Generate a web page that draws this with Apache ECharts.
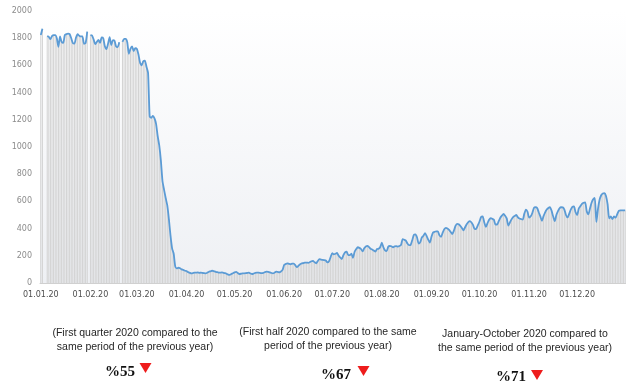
<!DOCTYPE html>
<html lang="en">
<head>
    <meta charset="UTF-8">
    <title>2020 daily</title>
    <script src="https://cdn.jsdelivr.net/npm/echarts@6/dist/echarts.min.js"></script>
    <style>
        body { margin: 0; background: #fff; }
    </style>
</head>
<body>
    <div id="ec" style="width:626px;height:385px"></div>
</body>
<script>
    // daily values, 2020 (null = no data that day)
    var jan = [1823, 1870, null, null, 1815, 1810, 1793, 1815, 1823, 1823, 1800, 1737, 1813, 1773, 1765, 1823, 1830, 1833, 1830, 1800, 1765, 1760, 1805, 1830, 1818, 1813, 1813, 1758, 1765, 1848, null]
    var feb = [1823, 1820, 1790, 1756, 1773, 1787, 1765, 1805, 1800, 1740, 1720, 1760, 1808, 1750, 1785, 1782, 1740, 1735, 1770, null, 1773, 1795, 1795, 1770, 1685, 1722, 1740, 1705, 1726]
    var mar = [1722, 1680, 1620, 1601, 1630, 1635, 1590, 1545, 1225, 1215, 1228, 1210, 1170, 1080, 1010, 900, 750, 685, 625, 570, 470, 350, 255, 215, 120, 108, 112, 108, 100, 96, 90]
    var apr = [88, 80, 75, 71, 73, 76, 76, 78, 75, 76, 74, 72, 71, 76, 83, 86, 90, 88, 83, 80, 77, 76, 78, 75, 72, 68, 62, 60, 66, 72]
    var may = [78, 82, 74, 66, 68, 71, 71, 72, 74, 76, 70, 66, 70, 75, 76, 76, 74, 72, 75, 80, 83, 81, 78, 74, 71, 76, 83, 81, 79, 85, 96]
    var jun = [133, 140, 145, 141, 138, 142, 143, 130, 116, 128, 138, 144, 146, 150, 150, 148, 153, 160, 163, 152, 145, 162, 175, 172, 170, 168, 165, 152, 160, 190]
    var jul = [219, 210, 215, 222, 200, 188, 176, 205, 225, 231, 205, 205, 215, 185, 230, 250, 263, 258, 250, 232, 255, 268, 273, 264, 252, 246, 238, 231, 250, 252, 265]
    var aug = [297, 262, 240, 235, 266, 272, 270, 263, 270, 271, 268, 272, 280, 322, 318, 312, 290, 278, 280, 315, 354, 358, 335, 290, 300, 335, 347, 367, 345, 318, 297]
    var sep = [340, 372, 377, 380, 380, 350, 340, 370, 395, 405, 400, 390, 375, 360, 385, 420, 435, 432, 420, 405, 388, 410, 432, 448, 455, 445, 425, 396, 400, 425]
    var oct = [452, 485, 490, 445, 412, 440, 465, 476, 472, 465, 430, 430, 455, 480, 495, 508, 495, 475, 422, 445, 468, 485, 493, 500, 482, 474, 470, 466, 510, 540, 524]
    var nov = [480, 490, 515, 552, 558, 551, 520, 490, 458, 492, 520, 540, 552, 557, 532, 490, 455, 500, 528, 550, 557, 556, 540, 500, 482, 508, 540, 560, 563, 520]
    var dec = [500, 548, 565, 582, 590, 593, 525, 505, 548, 590, 615, 625, 448, 545, 612, 645, 658, 660, 640, 580, 475, 490, 470, 490, 480, 505, 530, 534, 534, 534, 534]

    var months = [jan, feb, mar, apr, may, jun, jul, aug, sep, oct, nov, dec]

    // notes under the chart
    var notes = [
        { lines: ['(First quarter 2020 compared to the', 'same period of the previous year)'], pct: '%55' },
        { lines: ['(First half 2020 compared to the same', 'period of the previous year)'], pct: '%67' },
        { lines: ['January-October 2020 compared to', 'the same period of the previous year)'], pct: '%71' }
    ]

    function pad(n) { return n < 10 ? '0' + n : '' + n }

    var days = []
    var values = []
    months.forEach(function(m, mi) {
        m.forEach(function(v, di) {
            days.push(pad(di + 1) + '.' + pad(mi + 1) + '.20')
            values.push(v)
        })
    })

    function monthStart(i, v) { return v.slice(0, 2) === '01' }

    var ech = document.getElementById("ec")
    var mychart = echarts.init(ech)

    // note positions
    var notePos = [
        { x: 135, y1: 333, y2: 347, px: 120, py: 372, tx: 145.5, ty: 368 },
        { x: 328, y1: 332, y2: 346, px: 336, py: 375, tx: 363.5, ty: 371 },
        { x: 525, y1: 334, y2: 348, px: 511, py: 377, tx: 537, ty: 375 }
    ]
    var graphics = []
    notes.forEach(function(n, i) {
        var p = notePos[i]
        n.lines.forEach(function(t, k) {
            graphics.push({
                type: 'text', x: p.x, y: k === 0 ? p.y1 : p.y2,
                style: { text: t, fill: '#262626', font: '10.5px "Liberation Sans", Arial, sans-serif', align: 'center', verticalAlign: 'middle' }
            })
        })
        graphics.push({
            type: 'text', x: p.px, y: p.py,
            style: { text: n.pct, fill: '#111', font: 'bold 15px "Liberation Serif", "Times New Roman", serif', align: 'center', verticalAlign: 'middle' }
        })
        graphics.push({
            type: 'polygon',
            shape: { points: [[p.tx - 6, p.ty - 5], [p.tx + 6, p.ty - 5], [p.tx, p.ty + 5]] },
            style: { fill: '#ee1c1c' }
        })
    })

    var options = {
        animation: false,
        grid: {
            left: 40, right: 0, top: 11, bottom: 102,
            show: true, borderWidth: 0,
            backgroundColor: new echarts.graphic.LinearGradient(0, 0, 0, 1, [
                { offset: 0, color: '#ffffff' },
                { offset: 1, color: '#eef0f4' }
            ])
        },
        xAxis: {
            type: 'category',
            data: days,
            axisLine: { lineStyle: { color: '#d0d0d0' } },
            axisTick: { interval: monthStart, length: 3, lineStyle: { color: '#c8c8c8' } },
            axisLabel: { interval: monthStart, color: '#4d4d4d', fontSize: 8, margin: 8, fontFamily: 'DejaVu Sans' },
            splitLine: { show: false }
        },
        yAxis: {
            type: 'value',
            min: 0, max: 2000, interval: 200,
            axisLine: { show: false },
            axisTick: { show: false },
            splitLine: { show: false },
            axisLabel: { color: '#8c8c8c', fontSize: 8, margin: 8, fontFamily: 'DejaVu Sans', formatter: function(v) { return '' + v } }
        },
        series: [{
            type: 'bar',
            data: values,
            barWidth: 1,
            itemStyle: { color: '#d2d2d2' },
            silent: true
        }, {
            type: 'line',
            data: values,
            showSymbol: false,
            smooth: 0.2,
            connectNulls: false,
            lineStyle: { color: '#5b9bd5', width: 1.8 },
            silent: true
        }],
        graphic: graphics
    }
    mychart.setOption(options)
</script>
</html>
